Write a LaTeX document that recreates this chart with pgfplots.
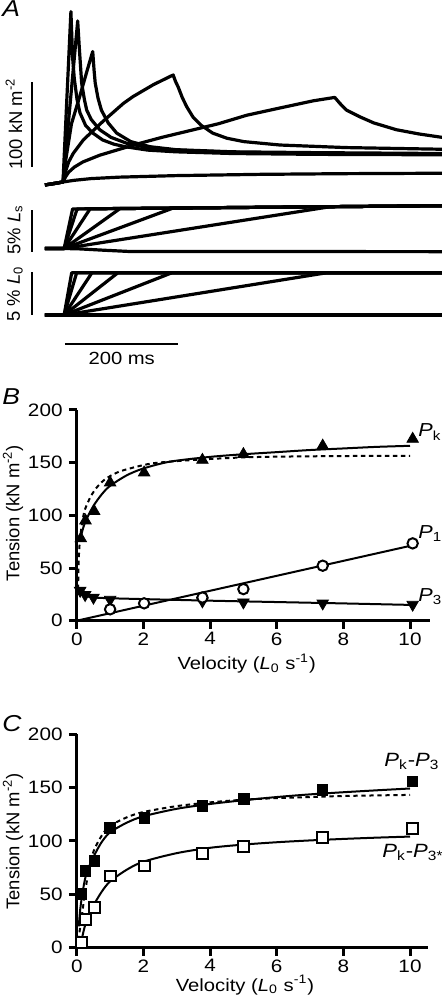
\documentclass[border=0pt]{standalone}
\usepackage{fontspec}
\setmainfont{Liberation Sans}[FakeStretch=1.15]
\newfontfamily\rotfont{Liberation Sans}
\usepackage{pgfplots}
\pgfplotsset{compat=1.18}

\pgfplotsset{
  trace/.style={black, line width=1.6pt, line join=round, no markers},
  bar/.style={black, line width=1.1pt, no markers},
  panelA/.style={scale only axis, width=221pt, axis lines=none, xmin=-111.5, xmax=670.8,
    clip=false, enlargelimits=false, anchor=south west},
  panelBC/.style={scale only axis, anchor=south west, axis lines=left,
    axis line style={-, line width=1.5pt, black},
    tick style={line width=1.5pt, black}, tick align=outside, major tick length=4pt,
    xmin=0, ymin=0, ymax=200, xtick={0,2,...,10}, ytick={0,50,...,200},
    minor tick num=0, clip=false, enlargelimits=false,
    /pgf/number format/assume math mode=true,
    tick label style={font=\fontsize{9}{11}\selectfont, black},
    xticklabel style={yshift=1.2pt}},
  fit/.style={black, line width=1pt, no markers, smooth},
  fitd/.style={black, line width=1pt, no markers, smooth, dash pattern=on 2.2pt off 1.8pt},
}

\begin{document}
\fontsize{8.8}{11}\selectfont
\begin{tikzpicture}
\path[use as bounding box] (0,0) rectangle (221pt,499pt);

% ---------------- Panel A: tension traces ----------------
\begin{axis}[panelA, at={(0pt,401.5pt)}, height=97.5pt, ymin=-11.8, ymax=217.6]
\addplot[trace] coordinates {(-32,0)(-15,1.5)(0,3.5)(14,204)(17,150)(20,125)(25,100)(30,85)(40,70)(53,61)(70,53)(90,48)(110,45)(150,41)(200,39)(300,37)(450,36)(671,35.5)};
\addplot[trace] coordinates {(-32,0)(0,3.5)(26,193)(29,160)(33,120)(38,100)(42,88)(50,77)(65,65)(85,56)(113,49)(150,44)(200,41)(300,38.5)(450,37)(671,36)};
\addplot[trace] coordinates {(-32,0)(0,3.5)(5,30)(15,72)(30,105)(42,133)(52.6,157)(55,135)(57,120)(62,102)(68,88)(80,73)(95,61)(120,51)(154,45)(200,41.5)(300,39)(450,38)(671,37)};
\addplot[trace] coordinates {(-32,0)(0,3.5)(5,17)(10,27)(18,37)(36,53)(71,75)(107,96)(124,104)(160,118)(195,129.4)(199,122)(204,115)(211,103)(219,92)(230,80)(245,70)(265,61)(290,55)(320,51)(384,47)(500,44)(671,42)};
\addplot[trace] coordinates {(-32,0)(0,3.5)(5,10)(10,15)(20,21)(35,27)(65,35)(100,42)(136,49)(175,56)(225,64)(275,72)(325,82)(380,90)(443,99)(481,103)(490,96)(502,88)(526,80)(550,73)(590,65)(630,60)(671,56)};
\addplot[trace] coordinates {(-32,0)(0,3.5)(20,5.5)(50,7.5)(100,9.2)(200,11)(350,12.5)(500,13.3)(671,13.8)};
\addplot[bar] coordinates {(-55.4,21.5)(-55.4,121.5)};
\end{axis}

% ---------------- Panel A: sarcomere length ----------------
\begin{axis}[panelA, at={(0pt,368pt)}, height=31pt, ymin=-1.619, ymax=5.815]
\addplot[trace] coordinates {(-32,0)(2,0)(17,4.74)(671,5.13)};
\addplot[trace] coordinates {(-32,0)(2,0)(25,4.745)(671,5.13)};
\addplot[trace] coordinates {(-32,0)(2,0)(48,4.76)(671,5.13)};
\addplot[trace] coordinates {(-32,0)(2,0)(101,4.79)(671,5.13)};
\addplot[trace] coordinates {(-32,0)(2,0)(195,4.85)(671,5.13)};
\addplot[trace] coordinates {(-32,0)(2,0)(473,5.01)(671,5.13)};
\addplot[trace] coordinates {(-32,0)(2,0)(30,-0.05)(70,-0.2)(115,-0.35)(671,-0.38)};
\addplot[bar] coordinates {(-55.4,-0.38)(-55.4,4.62)};
\end{axis}

% ---------------- Panel A: fibre length ----------------
\begin{axis}[panelA, at={(0pt,334pt)}, height=32.5pt, ymin=-1.732, ymax=5.774]
\addplot[trace] coordinates {(-32,0)(2,0)(15.4,4.88)(671,4.88)};
\addplot[trace] coordinates {(-32,0)(2,0)(24.2,4.88)(671,4.88)};
\addplot[trace] coordinates {(-32,0)(2,0)(51.3,4.88)(671,4.88)};
\addplot[trace] coordinates {(-32,0)(2,0)(97.3,4.88)(671,4.88)};
\addplot[trace] coordinates {(-32,0)(2,0)(193,4.88)(671,4.88)};
\addplot[trace] coordinates {(-32,0)(2,0)(467,4.88)(671,4.88)};
\addplot[trace] coordinates {(-32,0)(671,0)};
\addplot[bar] coordinates {(-55.4,0)(-55.4,5)};
\addplot[bar] coordinates {(3.5,-3.35)(203.5,-3.35)};
\end{axis}

% ---------------- Panel B ----------------
\begin{axis}[panelBC, at={(38.4pt,188.65pt)}, width=176.6pt, height=105.35pt, xmax=10.6]
\addplot[fit] coordinates {(0.1,77)(0.2,89)(0.3,97)(0.5,109)(0.75,120)(1,128)(1.5,138)(2,144.5)(2.8,151)(4,155.5)(5,158)(6,160)(7,162)(8,163.5)(9,165)(10,166)};
\addplot[fitd] coordinates {(0.04,30)(0.05,50)(0.07,66)(0.1,78)(0.17,95)(0.25,106)(0.42,118)(0.6,126.5)(0.82,133.5)(1.1,139)(1.42,143)(2.2,149)(3,151.5)(4,153.5)(5,155)(6,155.7)(8,156.3)(10,156.5)};
\addplot[fit] coordinates {(0,0)(10,71)};
\addplot[fit] coordinates {(0.03,30)(0.1,27)(0.2,24.5)(0.35,22.8)(0.5,22)(1,21.3)(2,20.5)(4,19)(6,17.7)(8,16.4)(10,15)};
\addplot[only marks, mark=triangle*, mark size=3.3pt, mark options={fill=black, draw=black}]
  coordinates {(0.12,78)(0.26,95)(0.52,104)(1.0,131)(2.02,140.5)(3.77,152.5)(5.0,158)(7.38,166)(10.08,172.5)};
\addplot[only marks, mark=triangle*, mark size=3.3pt, mark options={fill=black, draw=black, rotate=180}]
  coordinates {(0.1,28.5)(0.25,24.5)(0.5,22)(1.0,20)(3.77,18.5)(5.0,17.5)(7.38,16.5)(10.08,15.3)};
\addplot[only marks, mark=*, mark size=2.6pt, mark options={fill=white, draw=black, line width=1pt}]
  coordinates {(1.0,10.8)(2.02,16.5)(3.77,22)(5.0,30)(7.38,52.2)(10.08,73.4)};
\end{axis}

% ---------------- Panel C ----------------
\begin{axis}[panelBC, at={(38.4pt,25.15pt)}, width=175.6pt, height=106.85pt, xmax=10.54]
\addplot[fit] coordinates {(0.06,20)(0.1,35)(0.16,49)(0.26,66)(0.4,78)(0.55,88)(0.75,99)(1,108)(1.5,117)(2,123)(3,130)(4,134.5)(5,138)(6,141)(7,143.5)(8,145.5)(9,147.3)(10,149)};
\addplot[fitd] coordinates {(0.05,7)(0.1,19)(0.16,32)(0.25,52)(0.36,73)(0.5,90)(0.75,105)(1,114)(1.5,122)(2,127)(3,132.5)(4,136)(5,138.5)(6,140)(7,141)(8,142)(10,143)};
\addplot[fit] coordinates {(0.11,1)(0.15,8)(0.2,15)(0.25,21)(0.35,29.5)(0.5,39.5)(0.75,52.5)(1,62)(1.5,73)(2,80.5)(3,88.5)(4,93.5)(5,96.5)(6,98.7)(7,100.4)(8,101.8)(9,103)(10,104)};
\addplot[only marks, mark=square*, mark size=2.7pt, mark options={fill=black, draw=black}]
  coordinates {(0.13,50.2)(0.26,71.8)(0.53,81.4)(1.0,112)(2.03,121.7)(3.77,133)(5.01,139.2)(7.37,147.6)(10.07,155.7)};
\addplot[only marks, mark=square*, mark size=2.7pt, mark options={fill=white, draw=black, line width=1pt}]
  coordinates {(0.13,5)(0.26,26.5)(0.53,37.4)(1.0,67.1)(2.03,76.4)(3.77,88.3)(5.01,94.5)(7.37,103)(10.07,111.3)};
\end{axis}

% ---------------- Text ----------------
\node[anchor=base west, inner sep=0, font=\fontsize{11.5}{12}\selectfont\itshape] at (1pt,490.5pt) {A};
\node[anchor=base west, inner sep=0, font=\fontsize{11.5}{12}\selectfont\itshape] at (1pt,296.5pt) {B};
\node[anchor=base west, inner sep=0, font=\fontsize{11.5}{12}\selectfont\itshape] at (1pt,133pt) {C};

\node[rotate=90, font=\rotfont\fontsize{9.2}{11}\selectfont] at (7pt,437pt) {100 kN m\textsuperscript{-2}};
\node[rotate=90, font=\rotfont\fontsize{9.2}{11}\selectfont] at (7.5pt,384pt) {5\% \textit{L}\textsubscript{s}};
\node[rotate=90, font=\rotfont\fontsize{9.2}{11}\selectfont] at (7.5pt,352pt) {5 \% \textit{L}\textsubscript{0}};
\node at (60.85pt,320pt) {200 ms};

\node[rotate=90, font=\rotfont\fontsize{9.2}{11}\selectfont] at (6.5pt,242.5pt) {Tension (kN m\textsuperscript{-2})};
\node[anchor=base] at (123.35pt,164.15pt) {Velocity (\textit{L}\textsubscript{0} s\textsuperscript{-1})};
\node[rotate=90, font=\rotfont\fontsize{9.2}{11}\selectfont] at (6.5pt,78.25pt) {Tension (kN m\textsuperscript{-2})};
\node[anchor=base] at (122.5pt,3.3pt) {Velocity (\textit{L}\textsubscript{0} s\textsuperscript{-1})};

\node[anchor=base west, inner sep=0, font=\fontsize{9.4}{11}\selectfont] at (209pt,280.65pt) {\textit{P}\textsubscript{k}};
\node[anchor=base west, inner sep=0, font=\fontsize{9.4}{11}\selectfont] at (209pt,229.85pt) {\textit{P}\textsubscript{1}};
\node[anchor=base west, inner sep=0, font=\fontsize{9.4}{11}\selectfont] at (209pt,198.15pt) {\textit{P}\textsubscript{3}};
\node[anchor=base west, inner sep=0, font=\fontsize{9.6}{11}\selectfont] at (192pt,115.65pt) {\textit{P}\textsubscript{k}-\textit{P}\textsubscript{3}};
\node[anchor=base west, inner sep=0, font=\fontsize{9.6}{11}\selectfont] at (191pt,70.35pt) {\textit{P}\textsubscript{k}-\textit{P}\textsubscript{3*}};
\end{tikzpicture}
\end{document}
